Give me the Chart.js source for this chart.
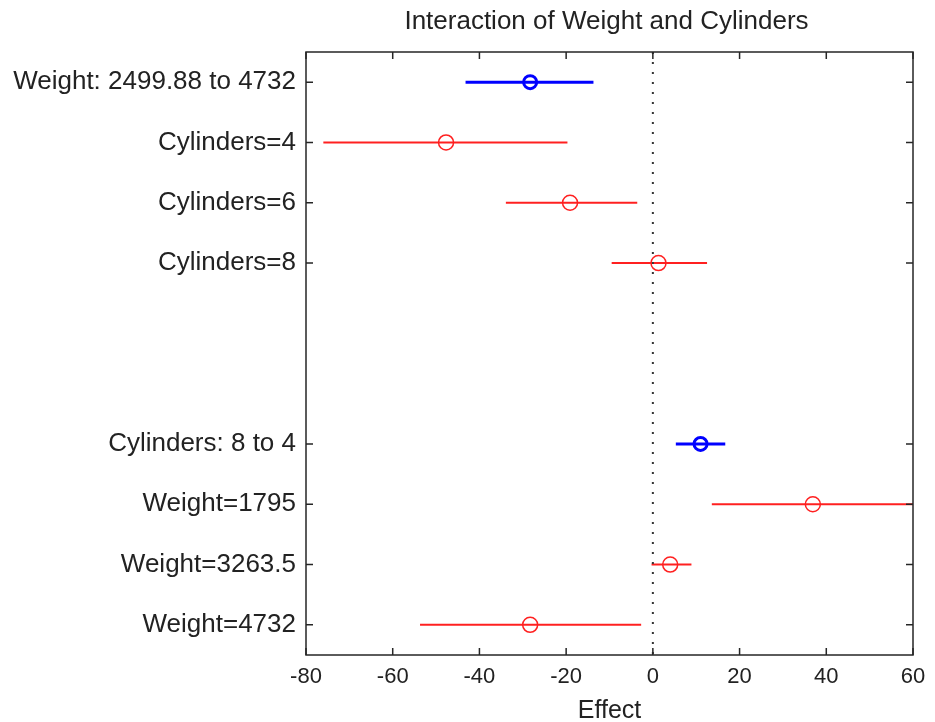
<!DOCTYPE html>
<html>
<head>
<meta charset="utf-8">
<script src="https://cdn.jsdelivr.net/npm/chart.js@4"></script>
<style>
  html, body { margin: 0; padding: 0; background: #fff; }
  #wrap { width: 935px; height: 722px; position: relative; }
</style>
</head>
<body>
<div id="wrap"><canvas id="chart"></canvas></div>
<script>
const TITLE = 'Interaction of Weight and Cylinders';
const X_TITLE = 'Effect';
const ROW_LABELS = ['Weight: 2499.88 to 4732', 'Cylinders=4', 'Cylinders=6', 'Cylinders=8', '', '',
    'Cylinders: 8 to 4', 'Weight=1795', 'Weight=3263.5', 'Weight=4732'];

// main effects (blue, thick)
const MAIN_ROWS = [1, 7];
const MAIN_EFFECT = [-28.3, 11.0];
const MAIN_LOW = [-43.2, 5.3];
const MAIN_HIGH = [-13.7, 16.7];

// conditional effects (red)
const COND_ROWS = [2, 3, 4, 8, 9, 10];
const COND_EFFECT = [-47.7, -19.1, 1.3, 36.9, 4.0, -28.3];
const COND_LOW = [-76.0, -33.9, -9.5, 13.6, -0.3, -53.7];
const COND_HIGH = [-19.7, -3.6, 12.5, 61, 8.9, -2.7];

const X_MIN = -80, X_MAX = 60, X_STEP = 20;

const FONT = '"Liberation Sans", Arial, sans-serif';
const AXIS_COLOR = '#262626';

const datasets = [];

// dotted zero line
datasets.push({
    data: [{ x: 0, y: 0.5 }, { x: 0, y: 10.5 }],
    showLine: true, borderColor: '#333', borderWidth: 2, borderDash: [2, 8],
    pointRadius: 0,
});

MAIN_ROWS.forEach((r, i) => {
    datasets.push({
        data: [{ x: MAIN_LOW[i], y: r }, { x: MAIN_HIGH[i], y: r }],
        showLine: true, borderColor: '#0000ff', borderWidth: 3, pointRadius: 0,
    });
});
COND_ROWS.forEach((r, i) => {
    datasets.push({
        data: [{ x: COND_LOW[i], y: r }, { x: COND_HIGH[i], y: r }],
        showLine: true, borderColor: '#ff2020', borderWidth: 2, pointRadius: 0,
    });
});

datasets.push({
    data: MAIN_ROWS.map((r, i) => ({ x: MAIN_EFFECT[i], y: r })),
    pointStyle: 'circle', pointRadius: 6.5, borderWidth: 3,
    borderColor: '#0000ff', backgroundColor: 'rgba(0,0,0,0)',
});
datasets.push({
    data: COND_ROWS.map((r, i) => ({ x: COND_EFFECT[i], y: r })),
    pointStyle: 'circle', pointRadius: 7.5, borderWidth: 1.5,
    borderColor: '#ff2020', backgroundColor: 'rgba(0,0,0,0)',
});

// box with inward ticks + title over the plot area
const framePlugin = {
    id: 'frame',
    afterDraw(chart) {
        const { ctx, chartArea: a, scales } = chart;
        const tl = 7;
        ctx.save();
        ctx.strokeStyle = AXIS_COLOR;
        ctx.lineWidth = 1.5;
        ctx.strokeRect(a.left, a.top, a.right - a.left, a.bottom - a.top);
        ctx.beginPath();
        scales.x.ticks.forEach(t => {
            const px = scales.x.getPixelForValue(t.value);
            ctx.moveTo(px, a.bottom); ctx.lineTo(px, a.bottom - tl);
            ctx.moveTo(px, a.top); ctx.lineTo(px, a.top + tl);
        });
        scales.y.ticks.forEach(t => {
            const py = scales.y.getPixelForValue(t.value);
            ctx.moveTo(a.left, py); ctx.lineTo(a.left + tl, py);
            ctx.moveTo(a.right, py); ctx.lineTo(a.right - tl, py);
        });
        ctx.stroke();

        ctx.fillStyle = '#222';
        ctx.font = '26px ' + FONT;
        ctx.textAlign = 'center';
        ctx.textBaseline = 'middle';
        ctx.fillText(TITLE, (a.left + a.right) / 2 - 3, 22);
        ctx.restore();
    }
};

new Chart(document.getElementById('chart'), {
    type: 'scatter',
    data: { datasets },
    options: {
        responsive: true,
        maintainAspectRatio: false,
        animation: false,
        layout: { padding: { top: 52, right: 22, left: 0, bottom: 0 } },
        plugins: { legend: { display: false }, tooltip: { enabled: false } },
        scales: {
            x: {
                type: 'linear', min: X_MIN, max: X_MAX,
                grid: { display: false, drawTicks: false },
                border: { display: false },
                ticks: { stepSize: X_STEP, color: '#222', font: { family: FONT, size: 22 }, padding: 9 },
                title: {
                    display: true, text: X_TITLE, color: '#222',
                    font: { family: FONT, size: 25, lineHeight: 0.9 }, padding: { top: 0, bottom: 0 },
                },
                afterFit(s) { s.height = 67; },
            },
            y: {
                type: 'linear', min: 0.5, max: 10.5, reverse: true,
                grid: { display: false, drawTicks: false },
                border: { display: false },
                afterBuildTicks(s) {
                    s.ticks = ROW_LABELS.map((l, i) => ({ value: i + 1 })).filter(t => ROW_LABELS[t.value - 1]);
                },
                ticks: {
                    color: '#222', font: { family: FONT, size: 26 }, padding: 10,
                    autoSkip: false,
                    callback: v => ROW_LABELS[v - 1] || '',
                },
                afterFit(s) { s.width = 306; },
            },
        },
    },
    plugins: [framePlugin],
});
</script>
</body>
</html>
